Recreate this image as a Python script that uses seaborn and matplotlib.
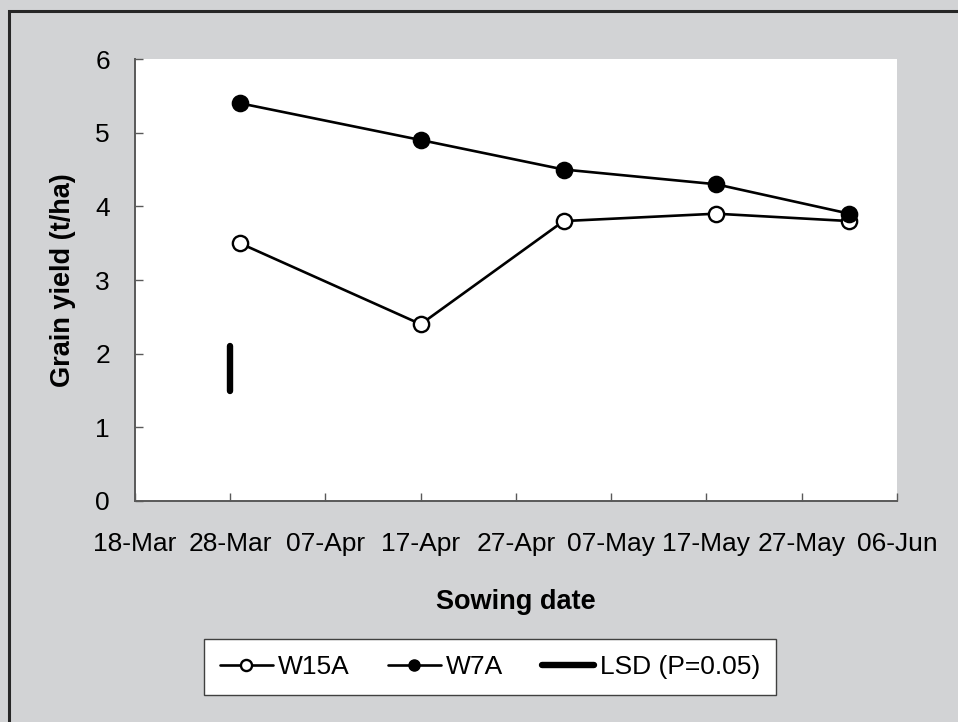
import matplotlib
matplotlib.use("Agg")
import matplotlib.pyplot as plt
import matplotlib.dates as mdates
from matplotlib.lines import Line2D
from matplotlib.patches import Rectangle
import seaborn as sns
import pandas as pd

# ---- data ----
sowing_dates = ["2010-03-29", "2010-04-17", "2010-05-02", "2010-05-18", "2010-06-01"]
w15a_yield = [3.5, 2.4, 3.8, 3.9, 3.8]
w7a_yield = [5.4, 4.9, 4.5, 4.3, 3.9]
lsd_date = "2010-03-28"
lsd_low = 1.5
lsd_high = 2.1
tick_dates = ["2010-03-18", "2010-03-28", "2010-04-07", "2010-04-17", "2010-04-27",
              "2010-05-07", "2010-05-17", "2010-05-27", "2010-06-06"]
y_ticks = [0, 1, 2, 3, 4, 5, 6]

df = pd.DataFrame({
    "date": pd.to_datetime(sowing_dates * 2),
    "yield": w15a_yield + w7a_yield,
    "variety": ["W15A"] * len(w15a_yield) + ["W7A"] * len(w7a_yield),
})

sns.set_theme(style="white")
plt.rcParams["font.family"] = ["Liberation Sans", "DejaVu Sans"]
plt.rcParams["text.color"] = "black"
plt.rcParams["axes.labelcolor"] = "black"

BG = "#d2d3d5"
SPINE = "#595959"
FS = 19
LW = 1.9

fig = plt.figure(figsize=(9.58, 7.22), dpi=100, facecolor=BG)
ax = fig.add_axes([135 / 958, 1 - 501 / 722, (897 - 135) / 958, (501 - 59) / 722])
ax.set_facecolor("white")

w15 = df[df["variety"] == "W15A"]
w7 = df[df["variety"] == "W7A"]
sns.lineplot(data=w15, x="date", y="yield", ax=ax, color="black", lw=LW,
             marker="o", markersize=11, markerfacecolor="white",
             markeredgecolor="black", markeredgewidth=1.7, legend=False)
sns.lineplot(data=w7, x="date", y="yield", ax=ax, color="black", lw=LW,
             marker="o", markersize=11, markerfacecolor="black",
             markeredgecolor="black", markeredgewidth=1.7, legend=False)

lsd_x = pd.to_datetime([lsd_date, lsd_date])
ax.plot(lsd_x, [lsd_low, lsd_high], color="black", lw=4.6, solid_capstyle="round")

ticks = pd.to_datetime(tick_dates)
ax.set_xlim(ticks[0], ticks[-1])
ax.set_xticks(ticks)
ax.xaxis.set_major_formatter(mdates.DateFormatter("%d-%b"))
ax.set_ylim(0, 6)
ax.set_yticks(y_ticks)

for s in ["top", "right"]:
    ax.spines[s].set_visible(False)
for s in ["left", "bottom"]:
    ax.spines[s].set_color(SPINE)
    ax.spines[s].set_linewidth(1.4)

ax.tick_params(axis="both", direction="in", length=6, width=1, color=SPINE,
               labelsize=FS, labelcolor="black")
ax.tick_params(axis="y", pad=18, left=True)
ax.tick_params(axis="x", pad=22, bottom=True)

ax.set_xlabel("Sowing date", fontsize=19.5, fontweight="bold", labelpad=24,
              color="black")
ax.set_ylabel("Grain yield (t/ha)", fontsize=19.5, fontweight="bold", labelpad=14,
              color="black")

handles = [
    Line2D([], [], color="black", lw=LW, marker="o", markersize=8,
           markerfacecolor="white", markeredgecolor="black", markeredgewidth=1.7),
    Line2D([], [], color="black", lw=LW, marker="o", markersize=8,
           markerfacecolor="black", markeredgecolor="black"),
    Line2D([], [], color="black", lw=4.6, solid_capstyle="round"),
]
leg = fig.legend(handles, ["W15A", "W7A", "LSD (P=0.05)"], loc="center",
                 bbox_to_anchor=(490 / 958, 1 - 667 / 722), ncol=3,
                 fontsize=FS, frameon=True, fancybox=False, framealpha=1,
                 edgecolor="#404040", facecolor="white", handlelength=2.0,
                 handletextpad=0.2, columnspacing=1.45, borderpad=0.6,
                 labelcolor="black")
leg.get_frame().set_linewidth(1.0)

top = 1 - 11 / 722
fig.patches.append(Rectangle((9 / 958, -0.2), 1.5, top + 0.2,
                             transform=fig.transFigure, fill=False,
                             edgecolor="#262626", lw=2.2))

fig.savefig("out.png", dpi=100, facecolor=BG)
